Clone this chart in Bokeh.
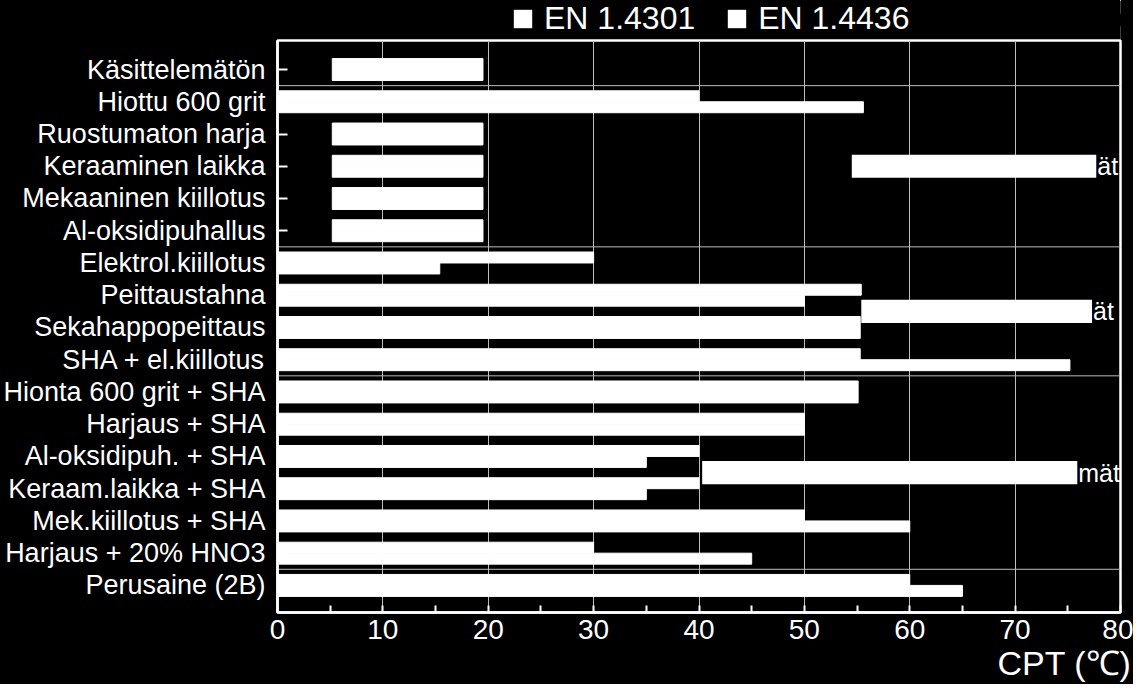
import numpy as np
from bokeh.plotting import figure
from bokeh.layouts import column
from bokeh.models import Range1d, FixedTicker, Span, Legend, LegendItem, Title
from bokeh.core.properties import value
from bokeh.embed import file_html
from bokeh.resources import INLINE

# ---- data ----
categories = ["Käsittelemätön", "Hiottu 600 grit", "Ruostumaton harja", "Keraaminen laikka",
              "Mekaaninen kiillotus", "Al-oksidipuhallus", "Elektrol.kiillotus", "Peittaustahna",
              "Sekahappopeittaus", "SHA + el.kiillotus", "Hionta 600 grit + SHA", "Harjaus + SHA",
              "Al-oksidipuh. + SHA", "Keraam.laikka + SHA", "Mek.kiillotus + SHA",
              "Harjaus + 20% HNO3", "Perusaine (2B)"]
series_names = ["EN 1.4301", "EN 1.4436"]
start_4301 = [5.2, 0, 5.2, 5.2, 5.2, 5.2, 0, 0, 0, 0, 0, 0, 0, 0, 0, 0, 0]
start_4436 = [5.2, 0, 5.2, 5.2, 5.2, 5.2, 0, 0, 0, 0, 0, 0, 0, 0, 0, 0, 0]
cpt_4301 = [19.5, 40, 19.5, 19.5, 19.5, 19.5, 30, 55.4, 55.3, 55.3, 55.1, 50, 40, 40, 50, 30, 60]
cpt_4436 = [19.5, 55.6, 19.5, 19.5, 19.5, 19.5, 15.4, 50, 55.3, 75.2, 55.1, 50, 35, 35, 60, 45, 65]
group_sizes = [1, 5, 4, 6, 1]
x_ticks = list(range(0, 81, 10))
x_minor = list(range(5, 80, 10))
note_row = [3, 7.5, 12.5]
note_from = [54.5, 55.4, 40.3]
note_to = [77.7, 77.3, 75.9]
note_text = ["ät", "ät", "mät"]
x_label = "CPT (℃)"

# ---- layout sizes ----
W, H = 1133, 684
LH = 39  # legend strip height

n = len(categories)
pos = np.arange(n)
bh = 0.34

# ---- main figure ----
p = figure(width=W, height=H - LH, output_backend="svg", toolbar_location=None,
           x_range=Range1d(0, 80), y_range=Range1d(n - 0.16, -0.9),
           min_border_left=276, min_border_right=13, min_border_top=1, min_border_bottom=72,
           background_fill_color="black", border_fill_color="black")

p.outline_line_color = "white"
p.outline_line_width = 2.5

p.xgrid.ticker = FixedTicker(ticks=x_ticks)
p.xgrid.grid_line_color = "#bdbdbd"
p.xgrid.grid_line_width = 1
p.ygrid.grid_line_color = None

bounds = np.cumsum(group_sizes)[:-1] - 0.5
for b in bounds:
    p.add_layout(Span(location=float(b), dimension="width", line_color="#bdbdbd",
                      line_width=1, level="underlay"))

r1 = p.hbar(y=pos - bh / 2, left=start_4301, right=cpt_4301, height=bh,
            fill_color="white", line_color="white", line_width=1)
r2 = p.hbar(y=pos + bh / 2, left=start_4436, right=cpt_4436, height=bh,
            fill_color="white", line_color="white", line_width=1)

# annotation boxes
p.hbar(y=note_row, left=note_from, right=note_to, height=0.72,
       fill_color="white", line_color=None)
p.text(x=note_to, y=note_row, text=note_text, text_color="white",
       text_font=value("Liberation Sans"), text_font_size="25px",
       text_align="left", text_baseline="middle", x_offset=1)

xa = p.xaxis[0]
xa.ticker = FixedTicker(ticks=x_ticks, minor_ticks=x_minor)
xa.axis_line_color = "white"
xa.axis_line_width = 2.5
xa.major_tick_line_color = "white"
xa.minor_tick_line_color = "white"
xa.major_tick_line_width = 2
xa.minor_tick_line_width = 2
xa.major_tick_in = 7
xa.major_tick_out = 0
xa.minor_tick_in = 7
xa.minor_tick_out = 0
xa.major_label_text_color = "white"
xa.major_label_text_font = "Liberation Sans"
xa.major_label_text_font_size = "28px"
xa.major_label_standoff = 7

ya = p.yaxis[0]
ya.ticker = FixedTicker(ticks=list(range(n)))
ya.major_label_overrides = {i: c for i, c in enumerate(categories)}
ya.axis_line_color = "white"
ya.axis_line_width = 2.5
ya.major_tick_line_color = "white"
ya.major_tick_line_width = 2
ya.major_tick_in = 10
ya.major_tick_out = 0
ya.minor_tick_line_color = None
ya.major_label_text_color = "white"
ya.major_label_text_font = "Liberation Sans"
ya.major_label_text_font_size = "27px"
ya.major_label_standoff = 12

t = Title(text=x_label, align="right", offset=-11, standoff=0,
          text_font_size="34px", text_color="white", text_font_style="normal",
          text_font="Liberation Sans")
p.add_layout(t, "below")

# ---- legend strip (same series, drawn out of view; only the legend shows) ----
lg = figure(width=W, height=LH, output_backend="svg", toolbar_location=None,
            x_range=Range1d(-3, -2), y_range=Range1d(0, 1),
            x_axis_location=None, y_axis_location=None, min_border=0,
            background_fill_color="black", border_fill_color="black")
lg.outline_line_color = None
lg.grid.grid_line_color = None
l1 = lg.hbar(y=pos - bh / 2, left=start_4301, right=cpt_4301, height=bh,
             fill_color="white", line_color=None)
l2 = lg.hbar(y=pos + bh / 2, left=start_4436, right=cpt_4436, height=bh,
             fill_color="white", line_color=None)
legend = Legend(items=[LegendItem(label=series_names[0], renderers=[l1]),
                       LegendItem(label=series_names[1], renderers=[l2])],
                orientation="horizontal", location=(234, 2),
                label_text_font="Liberation Sans", label_text_font_size="32px",
                label_text_color="white", glyph_width=23, glyph_height=23,
                label_standoff=10, spacing=30, padding=0, margin=0,
                border_line_color=None, background_fill_alpha=0)
lg.add_layout(legend)

layout = column(lg, p, spacing=0)
layout.styles = {"background-color": "black"}
open("out.html", "w").write(file_html(layout, INLINE))
